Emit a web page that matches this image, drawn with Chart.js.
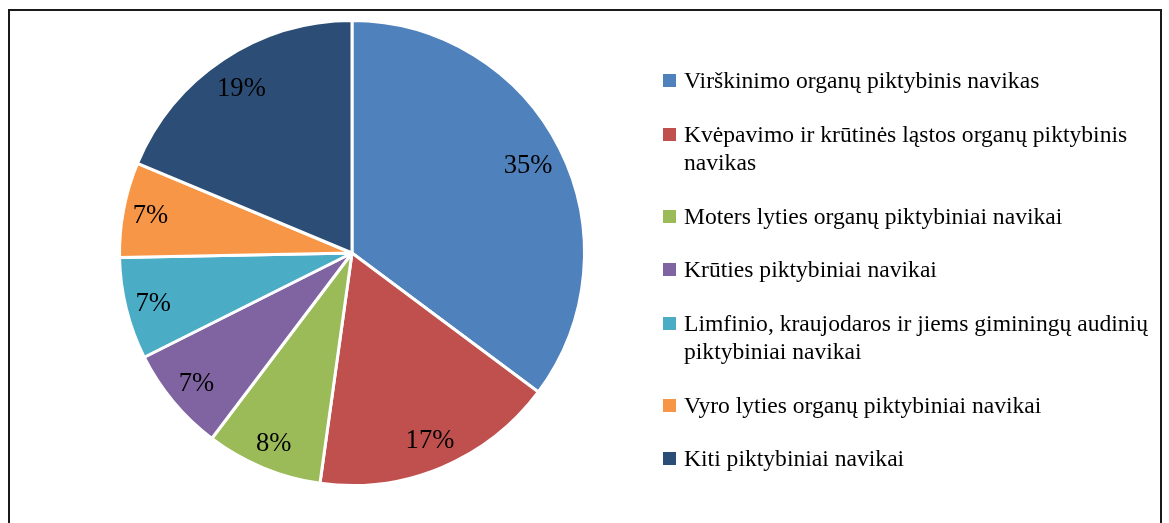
<!DOCTYPE html>
<html>
<head>
<meta charset="utf-8">
<script src="https://cdn.jsdelivr.net/npm/chart.js@4.4.0/dist/chart.umd.min.js"></script>
<style>
  html, body { margin: 0; padding: 0; background: #fff; }
  body { width: 1169px; height: 523px; position: relative; overflow: hidden; font-family: "Liberation Serif", "Times New Roman", serif; }
  #frame { position: absolute; left: 8px; top: 9px; width: 1150px; height: 530px; border: 2px solid #1a1a1a; }
  #chartBox { position: absolute; left: 0; top: 0; width: 704px; height: 506px; }
  #legend { position: absolute; left: 663px; top: 66px; width: 490px; }
  .item { display: flex; align-items: flex-start; margin-bottom: 25px; }
  .sw { width: 13px; height: 13px; flex: 0 0 13px; margin-top: 8px; margin-right: 8px; }
  .txt { font-size: 23.6px; line-height: 28.5px; color: #000; white-space: nowrap; }
</style>
</head>
<body>
<div id="frame"></div>
<div id="chartBox"><canvas id="c"></canvas></div>
<div id="legend"></div>
<script>
const categories = [
  "Virškinimo organų piktybinis navikas",
  "Kvėpavimo ir krūtinės ląstos organų piktybinis navikas",
  "Moters lyties organų piktybiniai navikai",
  "Krūties piktybiniai navikai",
  "Limfinio, kraujodaros ir jiems giminingų audinių piktybiniai navikai",
  "Vyro lyties organų piktybiniai navikai",
  "Kiti piktybiniai navikai"
];
const legendLines = [
  ["Virškinimo organų piktybinis navikas"],
  ["Kvėpavimo ir krūtinės ląstos organų piktybinis", "navikas"],
  ["Moters lyties organų piktybiniai navikai"],
  ["Krūties piktybiniai navikai"],
  ["Limfinio, kraujodaros ir jiems giminingų audinių", "piktybiniai navikai"],
  ["Vyro lyties organų piktybiniai navikai"],
  ["Kiti piktybiniai navikai"]
];
const shares = [35.2, 17.0, 8.1, 7.3, 7.1, 6.6, 18.7];
const shownLabels = ["35%", "17%", "8%", "7%", "7%", "7%", "19%"];
const colors = ["#4F81BD", "#C0504D", "#9BBB59", "#8064A2", "#4BACC6", "#F79646", "#2C4D75"];

// HTML legend built from arrays
const leg = document.getElementById('legend');
legendLines.forEach((lines, i) => {
  const it = document.createElement('div'); it.className = 'item';
  const sw = document.createElement('div'); sw.className = 'sw'; sw.style.background = colors[i];
  const tx = document.createElement('div'); tx.className = 'txt'; tx.innerHTML = lines.join('<br>');
  it.appendChild(sw); it.appendChild(tx); leg.appendChild(it);
});

// "best fit"-like inside labels: box pushed outward until it sits a small margin inside the rim
const labelPlugin = {
  id: 'sliceLabels',
  afterDatasetsDraw(chart) {
    const ctx = chart.ctx;
    const meta = chart.getDatasetMeta(0);
    const fs = 26.6;
    ctx.save();
    ctx.font = fs + 'px "Liberation Serif", serif';
    ctx.fillStyle = '#000';
    ctx.textAlign = 'center';
    ctx.textBaseline = 'alphabetic';
    meta.data.forEach((arc, i) => {
      const p = arc.getProps(['x','y','startAngle','endAngle','outerRadius'], true);
      const mid = (p.startAngle + p.endAngle) / 2;
      const ux = Math.cos(mid), uy = Math.sin(mid);
      const w = ctx.measureText(shownLabels[i]).width;
      const h = 30;
      const ext = Math.abs(ux) * w / 2 + Math.abs(uy) * h / 2;
      const r = p.outerRadius - 7 - ext;
      const cx = p.x + ux * r, cy = p.y + uy * r;
      ctx.fillText(shownLabels[i], cx, cy + fs * 0.33);
    });
    ctx.restore();
  }
};

new Chart(document.getElementById('c'), {
  type: 'pie',
  data: {
    labels: categories,
    datasets: [{ data: shares, backgroundColor: colors, borderColor: '#fff', borderWidth: 3 }]
  },
  options: {
    responsive: true,
    maintainAspectRatio: false,
    animation: false,
    layout: { padding: 19 },
    plugins: { legend: { display: false }, tooltip: { enabled: false } }
  },
  plugins: [labelPlugin]
});
</script>
</body>
</html>
